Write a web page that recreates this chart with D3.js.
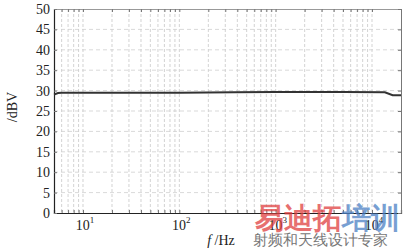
<!DOCTYPE html>
<html>
<head>
<meta charset="utf-8">
<script src="https://cdn.jsdelivr.net/npm/d3@7"></script>
<style>
body { margin: 0; background: #fff; }
text { font-family: "Liberation Serif", "DejaVu Serif", serif; }
</style>
</head>
<body>
<svg id="chart" width="408" height="249"></svg>
<script>
// curve: frequency (Hz) and level (dBV)
var freqs = [5, 5.5, 6, 20, 100, 370, 1000, 5000, 13600, 16400, 20000];
var levels = [29.0, 29.4, 29.5, 29.5, 29.5, 29.6, 29.65, 29.65, 29.6, 28.85, 28.85];
var yTicks = [0, 5, 10, 15, 20, 25, 30, 35, 40, 45, 50];
var decades = [10, 100, 1000, 10000];
var decadeExp = ["1", "2", "3", "4"];

var dataset = freqs.map(function(f, i) { return {f: f, v: levels[i]}; });

var xScale = d3.scaleLog()
    .domain([5, 20000])
    .range([54, 401]);

var yScale = d3.scaleLinear()
    .domain([0, 50])
    .range([213, 9]);

var svg = d3.select("#chart");

var drawGrid = function() {
    var minor = [];
    [1, 10, 100, 1000, 10000].forEach(function(d) {
        for (var k = 1; k < 10; k++) {
            var v = d * k;
            if (v > 5 && v < 20000) minor.push(v);
        }
    });
    var grid = svg.append("g").attr("class", "grid");
    grid.selectAll("line.v")
        .data(minor)
        .enter()
        .append("line")
        .attr("x1", function(d) { return xScale(d); })
        .attr("x2", function(d) { return xScale(d); })
        .attr("y1", yScale(50))
        .attr("y2", yScale(0))
        .attr("stroke", "#c8c8c8")
        .attr("stroke-width", 0.8)
        .attr("stroke-dasharray", "3,2");
    grid.selectAll("line.h")
        .data(yTicks.slice(1, -1))
        .enter()
        .append("line")
        .attr("x1", xScale(5))
        .attr("x2", xScale(20000))
        .attr("y1", function(d) { return yScale(d); })
        .attr("y2", function(d) { return yScale(d); })
        .attr("stroke", "#cfcfcf")
        .attr("stroke-width", 0.8)
        .attr("stroke-dasharray", "4,3");
};

var drawAxes = function() {
    var minorTicks = xScale.ticks();
    var xBottom = d3.axisBottom(xScale).tickValues(minorTicks).tickSize(-3).tickFormat("");
    var xTop = d3.axisTop(xScale).tickValues(minorTicks).tickSize(-3).tickFormat("");
    var yLeft = d3.axisLeft(yScale).tickValues(yTicks).tickSize(-3).tickPadding(4);
    var yRight = d3.axisRight(yScale).tickValues(yTicks).tickSize(-3).tickFormat("");

    var b = svg.append("g").attr("transform", "translate(0,213)").call(xBottom);
    var t = svg.append("g").attr("transform", "translate(0,9)").call(xTop);
    var l = svg.append("g").attr("transform", "translate(54,0)").call(yLeft);
    var r = svg.append("g").attr("transform", "translate(401,0)").call(yRight);

    b.select(".domain").attr("stroke", "#222").attr("stroke-width", 1.2);
    l.select(".domain").attr("stroke", "#222").attr("stroke-width", 1.2);
    t.select(".domain").attr("stroke", "#999");
    r.select(".domain").attr("stroke", "#777");
    [b, t, l, r].forEach(function(g) {
        g.selectAll(".tick line").attr("stroke", "#777");
    });
    l.selectAll(".tick text")
        .style("font-family", "Liberation Serif")
        .style("font-size", "14px")
        .attr("fill", "#222");

    var labs = svg.append("g");
    decades.forEach(function(d, i) {
        var txt = labs.append("text")
            .attr("x", xScale(d) + 2)
            .attr("y", 230)
            .attr("text-anchor", "middle")
            .attr("font-size", 14)
            .attr("fill", "#222");
        txt.append("tspan").text("10");
        txt.append("tspan").attr("dy", -7).attr("font-size", 9).text(decadeExp[i]);
    });
};

var drawLine = function() {
    var line = d3.line()
        .x(function(d) { return xScale(d.f); })
        .y(function(d) { return yScale(d.v); });
    svg.append("path")
        .datum(dataset)
        .attr("d", line)
        .attr("fill", "none")
        .attr("stroke", "#333")
        .attr("stroke-width", 2);
};

var createLabels = function() {
    svg.append("text")
        .attr("transform", "translate(17,107) rotate(-90)")
        .attr("text-anchor", "middle")
        .attr("font-size", 14)
        .attr("fill", "#222")
        .text("/dBV");
    var xl = svg.append("text")
        .attr("x", 221)
        .attr("y", 245)
        .attr("text-anchor", "middle")
        .attr("font-size", 14)
        .attr("fill", "#222");
    xl.append("tspan").attr("font-style", "italic").text("f");
    xl.append("tspan").text(" /Hz");

    // watermark seen on the picture
    var wm = svg.append("text")
        .attr("x", 255)
        .attr("y", 228)
        .attr("font-family", "Noto Sans CJK SC")
        .attr("font-weight", "bold")
        .attr("font-size", 29)
        .attr("opacity", 0.75);
    wm.append("tspan").attr("fill", "#e0403f").text("易迪拓");
    wm.append("tspan").attr("fill", "#4b7fc4").text("培训");
    svg.append("text")
        .attr("x", 253)
        .attr("y", 245)
        .attr("font-family", "Noto Sans CJK SC")
        .attr("font-size", 15)
        .attr("fill", "#777")
        .text("射频和天线设计专家");
};

drawGrid();
drawAxes();
drawLine();
createLabels();
</script>
</body>
</html>
